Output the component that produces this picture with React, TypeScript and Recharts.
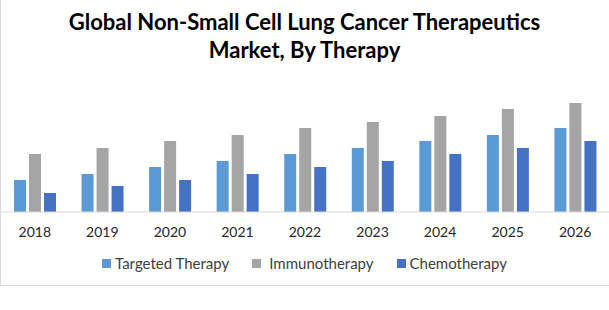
import { BarChart, Bar, XAxis, YAxis, Legend } from 'recharts'

const years = ['2018', '2019', '2020', '2021', '2022', '2023', '2024', '2025', '2026']
const seriesNames = ['Targeted Therapy', 'Immunotherapy', 'Chemotherapy']
const targetedTherapy = [3.2, 3.8, 4.5, 5.1, 5.8, 6.4, 7.1, 7.7, 8.4]
const immunotherapy = [5.8, 6.4, 7.1, 7.7, 8.4, 9.0, 9.6, 10.3, 10.9]
const chemotherapy = [1.9, 2.6, 3.2, 3.8, 4.5, 5.1, 5.8, 6.4, 7.1]

const data = years.map((year, i) => ({
  year,
  targeted: targetedTherapy[i],
  immuno: immunotherapy[i],
  chemo: chemotherapy[i],
}))

const font = 'Lato, "Noto Sans", sans-serif'

function LegendContent({ payload }: any) {
  const items = [...(payload || [])].sort(
    (a: any, b: any) => seriesNames.indexOf(a.value) - seriesNames.indexOf(b.value)
  )
  return (
    <div style={{ display: 'flex', justifyContent: 'center', gap: 23, fontFamily: font, fontSize: 15, color: '#404040' }}>
      {items.map((entry: any) => (
        <div key={entry.value} style={{ display: 'flex', alignItems: 'center' }}>
          <div style={{ width: 9, height: 9, background: entry.color, marginRight: entry.value === 'Immunotherapy' ? 8 : 4 }} />
          <span>{entry.value}</span>
        </div>
      ))}
    </div>
  )
}

export default function App() {
  return (
    <div style={{ position: 'absolute', left: 0, top: 0, width: 609, height: 310, background: '#fff' }}>
      <div
        style={{
          position: 'absolute',
          left: 0,
          top: 0,
          width: 609,
          height: 286,
          borderLeft: '1px solid #D9D9D9',
          borderBottom: '1px solid #D9D9D9',
          boxSizing: 'border-box',
          pointerEvents: 'none',
        }}
      />
      <div
        style={{
          position: 'absolute',
          left: 0,
          top: 8,
          width: 609,
          textAlign: 'center',
          fontFamily: font,
          fontWeight: 700,
          fontSize: 22,
          lineHeight: '28px',
          color: '#000',
        }}
      >
        Global Non-Small Cell Lung Cancer Therapeutics
        <br />
        Market, By Therapy
      </div>
      <BarChart
        width={609}
        height={310}
        data={data}
        margin={{ top: 92, right: 0, left: 1, bottom: 68 }}
        barGap={3}
        barSize={12}
      >
        <XAxis
          dataKey="year"
          stroke="#D9D9D9"
          tickLine={false}
          tickMargin={9}
          tick={{ fill: '#262626', fontSize: 14, fontFamily: font }}
        />
        <YAxis hide domain={[0, 12]} />
        <Legend
          verticalAlign="middle"
          align="center"
          wrapperStyle={{ top: 254, left: 0, width: 609 }}
          content={<LegendContent />}
        />
        <Bar dataKey="targeted" name={seriesNames[0]} fill="#5B9BD5" isAnimationActive={false} />
        <Bar dataKey="immuno" name={seriesNames[1]} fill="#A5A5A5" isAnimationActive={false} />
        <Bar dataKey="chemo" name={seriesNames[2]} fill="#4472C4" isAnimationActive={false} />
      </BarChart>
    </div>
  )
}
